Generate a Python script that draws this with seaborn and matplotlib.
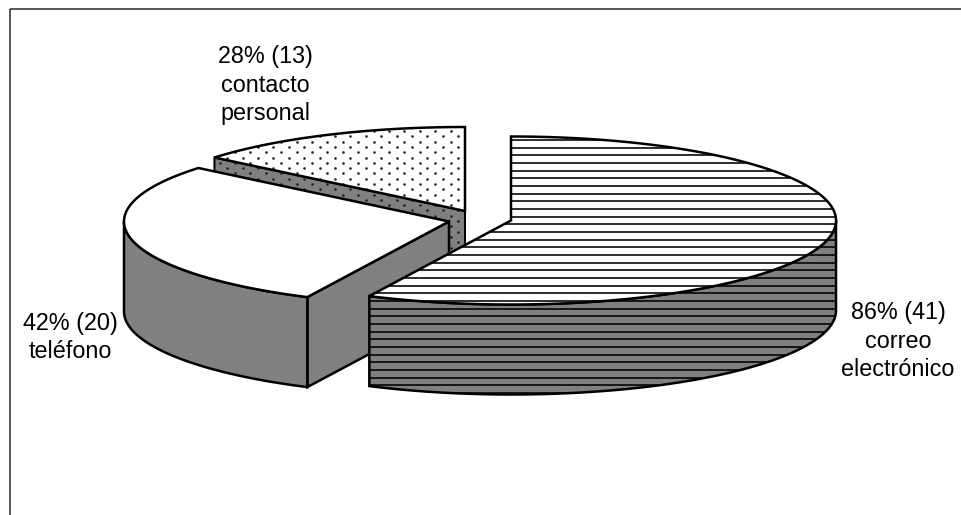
import numpy as np
import matplotlib
matplotlib.use("Agg")
import matplotlib.pyplot as plt
from matplotlib.patches import Polygon, Rectangle
import seaborn as sns

# Survey responses: contact channel, respondent count, share of respondents
channels = ["correo\nelectrónico", "teléfono", "contacto\npersonal"]
counts = [41, 20, 13]
percents = [86, 42, 28]

sns.set_theme(style="white", rc={"font.family": ["Liberation Sans", "DejaVu Sans"]})
WHITE, GREY, INK = sns.color_palette(["#ffffff", "#808080", "#000000"])

W, H, DPI = 961, 515, 100
fig = plt.figure(figsize=(W / DPI, H / DPI), dpi=DPI)
ax = fig.add_axes([0, 0, 1, 1])
ax.set_xlim(0, W)
ax.set_ylim(H, 0)
ax.axis("off")

# Layout of the tilted pie, in figure pixels
RX, RY, DEPTH = 325, 84, 90
CENTERS = [(511, 220.5), (449, 221.5), (465, 211)]
EDGE_PX = 2.5
px = 72 / DPI


def view_angle(theta):
    """Clockwise angle on the disc to the angle seen on the tilted ellipse."""
    t = np.radians(theta)
    return theta - 15.9 * np.sin(t) + 1.73 * np.sin(2 * t)


def arc(center, a0, a1, drop=0.0):
    t = np.radians(np.linspace(a0, a1, 160))
    return np.column_stack([center[0] + RX * np.sin(t),
                            center[1] - RY * np.cos(t) + drop])


def add_face(points, fill, texture=None, lw=EDGE_PX):
    face = Polygon(points, closed=True, facecolor=fill, edgecolor="none")
    ax.add_patch(face)
    if texture is not None:
        texture(face)
    ax.add_patch(Polygon(points, closed=True, fill=False, edgecolor=INK,
                         linewidth=lw * px, joinstyle="miter"))


def stripes(face):
    ys = np.arange(147.7 - 7.67 * 3, 420, 7.67)
    lines = ax.hlines(ys, 300, 860, color=INK, linewidth=1.6 * px)
    lines.set_clip_path(face)


def dots(face):
    rows = np.arange(131 - 5.3 * 2, 320, 5.3)
    xs, ys = [], []
    for i, y in enumerate(rows):
        start = 404.3 if i % 2 == 0 else 412
        row = np.arange(start - 15.4 * 15, 480, 15.4)
        xs.extend(row)
        ys.extend([y] * len(row))
    pts = ax.scatter(xs, ys, s=(2.6 * px) ** 2, color="#222222", linewidths=0)
    pts.set_clip_path(face)


# Slice boundaries follow the counts, first slice starting at twelve o'clock
shares = np.array(counts) / sum(counts) * 360
bounds = np.concatenate([[0], np.cumsum(shares)])
a_start = view_angle(bounds[:-1])
a_end = view_angle(bounds[1:])

# Back slice first, so the nearer ones overlap it
c = CENTERS[2]
p = arc(c, a_start[2], a_end[2])
cut = np.array([p[0], c, c + np.array([0, DEPTH]), p[0] + np.array([0, DEPTH])])
add_face(cut, GREY, dots, lw=2.0)
add_face(np.vstack([[c], p]), WHITE, dots)

# Middle slice: cut wall, curved wall, top
c = CENTERS[1]
p = arc(c, a_start[1], a_end[1])
cut = np.array([c, p[0], p[0] + np.array([0, DEPTH]), np.array(c) + np.array([0, DEPTH])])
add_face(cut, GREY)
upper = arc(c, a_start[1], 270)
add_face(np.vstack([upper, arc(c, 270, a_start[1], DEPTH)]), GREY)
add_face(np.vstack([[c], p]), WHITE)

# Front slice: curved wall, top
c = CENTERS[0]
p = arc(c, a_start[0], a_end[0])
upper = arc(c, 90, a_end[0])
add_face(np.vstack([upper, arc(c, a_end[0], 90, DEPTH)]), GREY, stripes)
add_face(np.vstack([[c], p]), WHITE, stripes)

# Frame, open past the right and bottom edges of the figure
ax.add_patch(Rectangle((10, 9), 1000, 600, fill=False, edgecolor="#333333",
                       linewidth=1.6 * px))

# Labels
FS = 23.4 * px
label_pos = [(898, 341), (70, 337.5), (265, 85)]
for name, n, pct, (x, y) in zip(channels, counts, percents, label_pos):
    ax.text(x, y, f"{pct}% ({n})\n{name}", ha="center", va="center",
            fontsize=FS, color="black", linespacing=1.33)

fig.savefig("out.png", dpi=DPI, facecolor="white")
